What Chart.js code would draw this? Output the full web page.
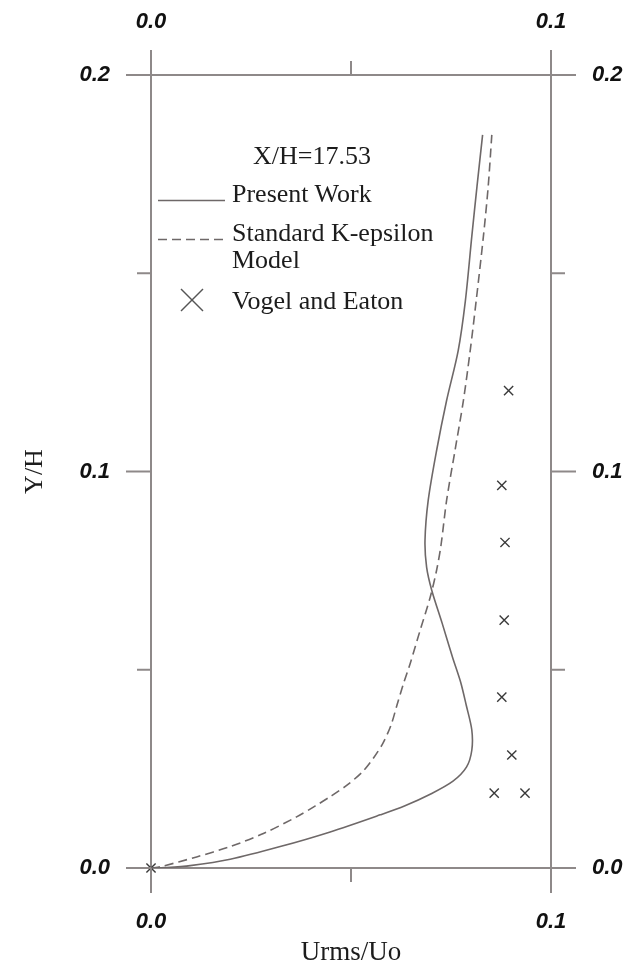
<!DOCTYPE html>
<html>
<head>
<meta charset="utf-8">
<script src="https://cdn.jsdelivr.net/npm/chart.js@4/dist/chart.umd.min.js"></script>
<style>
  html, body { margin: 0; padding: 0; background: #fff; }
  #wrap { position: relative; width: 624px; height: 967px; }
  #plot { position: absolute; left: 0; top: 0; }
  .lg { position: absolute; font-family: "Liberation Serif", "Times New Roman", serif;
        font-size: 26px; line-height: 26px; color: #1c1c1c; white-space: nowrap; }
  #lgMarks { position: absolute; left: 0; top: 0; }
</style>
</head>
<body>
<div id="wrap">
  <canvas id="plot" width="624" height="967"></canvas>
  <svg id="lgMarks" width="624" height="967">
    <line x1="158" y1="200.5" x2="225" y2="200.5" stroke="#6e6868" stroke-width="1.6"/>
    <line x1="158" y1="239.5" x2="224" y2="239.5" stroke="#6e6868" stroke-width="1.6" stroke-dasharray="9 5"/>
    <line x1="181" y1="289" x2="203" y2="311" stroke="#555" stroke-width="1.4"/>
    <line x1="203" y1="289" x2="181" y2="311" stroke="#555" stroke-width="1.4"/>
  </svg>
  <div class="lg" style="left:253px; top:143px;">X/H=17.53</div>
  <div class="lg" style="left:232px; top:181px;">Present Work</div>
  <div class="lg" style="left:232px; top:220px;">Standard K-epsilon</div>
  <div class="lg" style="left:232px; top:247px;">Model</div>
  <div class="lg" style="left:232px; top:288px;">Vogel and Eaton</div>
</div>
<script>
// --- DATA ---
const presentX = [0.0, 0.0035, 0.0098, 0.0198, 0.0323, 0.0448, 0.0573, 0.0635, 0.0698, 0.0755, 0.0789,
                  0.0802, 0.0802, 0.0788, 0.0774, 0.0754, 0.0728, 0.0702, 0.0689, 0.0685, 0.0693,
                  0.0714, 0.0739, 0.0768, 0.0786, 0.0802, 0.0815, 0.0829];
const presentY = [0.0, 0.0001, 0.0006, 0.0022, 0.0054, 0.0091, 0.0134, 0.0157, 0.0186, 0.0219, 0.0255,
                  0.0297, 0.0348, 0.0411, 0.0469, 0.0531, 0.0617, 0.0700, 0.0759, 0.0826, 0.0927,
                  0.1053, 0.1179, 0.1305, 0.1431, 0.1593, 0.1719, 0.1849];

const kepsX = [0.0, 0.0023, 0.0114, 0.0198, 0.0281, 0.0364, 0.0410, 0.0448, 0.0490, 0.0530, 0.0558,
               0.0580, 0.0600, 0.0615, 0.0630, 0.0648, 0.0673, 0.0698, 0.0714, 0.0725, 0.0739,
               0.0760, 0.0781, 0.0798, 0.0813, 0.0831, 0.0843, 0.0852];
const kepsY = [0.0, 0.0003, 0.0028, 0.0054, 0.0087, 0.0129, 0.0156, 0.0180, 0.0209, 0.0244, 0.0280,
               0.0315, 0.0360, 0.0411, 0.0461, 0.0516, 0.0600, 0.0683, 0.0751, 0.0814, 0.0927,
               0.1053, 0.1179, 0.1305, 0.1431, 0.1593, 0.1719, 0.1849];

const vogelX = [0.0, 0.0894, 0.0877, 0.0885, 0.0883, 0.0877, 0.0902, 0.0858, 0.0935];
const vogelY = [0.0, 0.1204, 0.0965, 0.0821, 0.0625, 0.0431, 0.0285, 0.0189, 0.0189];

const xTickValues = [0, 0.05, 0.1];
const xTickLabels = ['0.0', '', '0.1'];
const yTickValues = [0, 0.05, 0.1, 0.15, 0.2];
const yTickLabels = ['0.0', '', '0.1', '', '0.2'];

const LINE_COLOR = '#6e6868';
const AXIS_COLOR = '#8e8989';
const TICK_FONT = { family: '"Liberation Sans", Arial, sans-serif', size: 22, style: 'italic', weight: 'bold' };

const pts = (xs, ys) => xs.map((x, i) => ({ x: x, y: ys[i] }));

// draw the outward tick marks (long for labelled ticks, short otherwise)
const tickMarks = {
    id: 'tickMarks',
    afterDraw(chart) {
        const ctx = chart.ctx;
        const a = chart.chartArea;
        ctx.save();
        ctx.strokeStyle = AXIS_COLOR;
        ctx.lineWidth = 2;
        const sides = { x: 'bottom', x2: 'top', y: 'left', y2: 'right' };
        Object.keys(sides).forEach(id => {
            const s = chart.scales[id];
            const labels = id.startsWith('x') ? xTickLabels : yTickLabels;
            s.ticks.forEach((t, i) => {
                const len = labels[i] ? 25 : 14;
                const p = s.getPixelForValue(t.value);
                ctx.beginPath();
                if (sides[id] === 'bottom') { ctx.moveTo(p, a.bottom); ctx.lineTo(p, a.bottom + len); }
                if (sides[id] === 'top')    { ctx.moveTo(p, a.top);    ctx.lineTo(p, a.top - len); }
                if (sides[id] === 'left')   { ctx.moveTo(a.left, p);   ctx.lineTo(a.left - len, p); }
                if (sides[id] === 'right')  { ctx.moveTo(a.right, p);  ctx.lineTo(a.right + len, p); }
                ctx.stroke();
            });
        });
        ctx.restore();
    }
};

function xAxis(pos, size, pad, withTitle) {
    return {
        type: 'linear', position: pos, min: 0, max: 0.1,
        afterBuildTicks: s => { s.ticks = xTickValues.map(v => ({ value: v })); },
        afterFit: s => { s.height = size; },
        grid: { display: true, drawOnChartArea: false, drawTicks: false },
        border: { display: true, color: AXIS_COLOR, width: 2 },
        ticks: { padding: pad, autoSkip: false, maxRotation: 0, color: '#111', font: TICK_FONT,
                 callback: (v, i) => xTickLabels[i] },
        title: withTitle ? { display: true, text: 'Urms/Uo', color: '#1c1c1c',
                 font: { family: '"Liberation Serif", "Times New Roman", serif', size: 27, lineHeight: 1 },
                 padding: { top: 0, bottom: 1 } } : { display: false }
    };
}

function yAxis(pos, size, pad, withTitle) {
    return {
        type: 'linear', position: pos, min: 0, max: 0.2,
        afterBuildTicks: s => { s.ticks = yTickValues.map(v => ({ value: v })); },
        afterFit: s => { s.width = size; },
        grid: { display: true, drawOnChartArea: false, drawTicks: false },
        border: { display: true, color: AXIS_COLOR, width: 2 },
        ticks: { padding: pad, autoSkip: false, color: '#111', font: TICK_FONT,
                 callback: (v, i) => yTickLabels[i] },
        title: withTitle ? { display: true, text: 'Y/H', color: '#1c1c1c',
                 font: { family: '"Liberation Serif", "Times New Roman", serif', size: 26, lineHeight: 1 },
                 padding: { top: 22, bottom: 0 } } : { display: false }
    };
}

new Chart(document.getElementById('plot'), {
    type: 'scatter',
    data: {
        datasets: [{
            label: 'Present Work',
            data: pts(presentX, presentY),
            showLine: true, borderColor: LINE_COLOR, borderWidth: 1.6,
            pointRadius: 0, tension: 0.3, xAxisID: 'x', yAxisID: 'y'
        }, {
            label: 'Standard K-epsilon Model',
            data: pts(kepsX, kepsY),
            showLine: true, borderColor: LINE_COLOR, borderWidth: 1.6, borderDash: [9, 5],
            pointRadius: 0, tension: 0.3, xAxisID: 'x', yAxisID: 'y'
        }, {
            label: 'Vogel and Eaton',
            data: pts(vogelX, vogelY),
            showLine: false, pointStyle: 'crossRot', pointRadius: 6.5,
            borderColor: '#3a3a3a', borderWidth: 1.4, clip: false, xAxisID: 'x', yAxisID: 'y'
        }]
    },
    options: {
        responsive: false,
        animation: false,
        devicePixelRatio: 1,
        layout: { padding: 0 },
        plugins: { legend: { display: false }, tooltip: { enabled: false } },
        scales: {
            x: xAxis('bottom', 99, 41, true),
            x2: xAxis('top', 75, 40, false),
            y: yAxis('left', 151, 41, true),
            y2: yAxis('right', 73, 41, false)
        }
    },
    plugins: [tickMarks]
});
</script>
</body>
</html>
